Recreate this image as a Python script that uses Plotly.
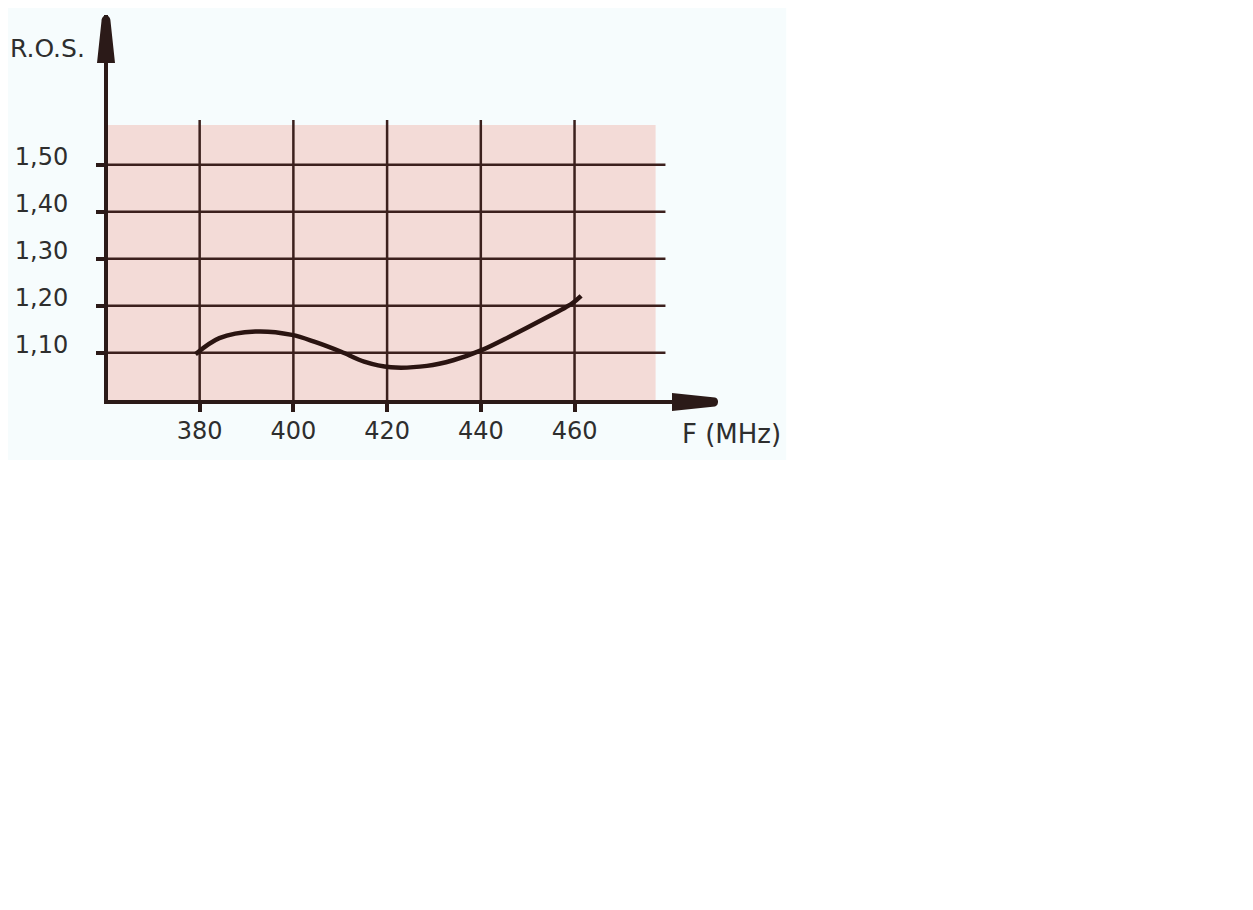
import plotly.graph_objects as go

# ---- data ----
freq_mhz = [379.1, 384.2, 391.9, 399.7, 404.6, 410.2, 415.1, 420.8, 428.5, 434.1,
            440.3, 446.1, 453.1, 459.5, 461.4]
ros = [1.097, 1.131, 1.145, 1.138, 1.123, 1.102, 1.081, 1.069, 1.072, 1.084,
       1.106, 1.134, 1.170, 1.205, 1.221]

x_ticks = [380, 400, 420, 440, 460]
x_tick_labels = ["380", "400", "420", "440", "460"]
y_ticks = [1.10, 1.20, 1.30, 1.40, 1.50]
y_tick_labels = ["1,10", "1,20", "1,30", "1,40", "1,50"]

# ---- layout constants ----
X_RANGE = [360.44, 490.40]
Y_RANGE = [0.9994, 1.8185]
PINK_X_END = 477.3
PINK_Y_TOP = 1.5845
HGRID_X_END = 479.4
VGRID_Y_TOP = 1.595

W, H = 1237, 894
PW, PH = 616, 385
ML, MT = 93.5, 7
MR = W - ML - PW
MB = H - MT - PH
OFF_X, OFF_Y = 10.5, 8  # page -> figure pixel offset


def px_x(page_x):  # page pixel -> paper fraction
    return (page_x - OFF_X - ML) / PW


def px_y(page_y):
    return (MT + PH - (page_y - OFF_Y)) / PH


INK = "#2b1a18"
GRID = "#3b201d"
TEXT = "#2e2e2e"
FONT = "DejaVu Sans"

fig = go.Figure()
fig.add_trace(go.Scatter(
    x=freq_mhz, y=ros, mode="lines",
    line=dict(color="#2a1411", width=4.5, shape="spline", smoothing=0.9),
    hoverinfo="skip", showlegend=False,
))

shapes = []
# light tinted background of the scanned figure
shapes.append(dict(type="rect", xref="paper", yref="paper",
                   x0=px_x(0), x1=px_x(790), y0=px_y(460), y1=px_y(0),
                   fillcolor="#f6fcfd", line=dict(width=0), layer="below"))
# pink chart paper
shapes.append(dict(type="rect", xref="x", yref="y",
                   x0=X_RANGE[0], x1=PINK_X_END, y0=Y_RANGE[0], y1=PINK_Y_TOP,
                   fillcolor="#f3dbd7", line=dict(width=0), layer="below"))
# grid lines
for v in y_ticks:
    shapes.append(dict(type="line", xref="x", yref="y", x0=X_RANGE[0], x1=HGRID_X_END,
                       y0=v, y1=v, line=dict(color=GRID, width=2.5), layer="below"))
for v in x_ticks:
    shapes.append(dict(type="line", xref="x", yref="y", x0=v, x1=v,
                       y0=Y_RANGE[0], y1=VGRID_Y_TOP, line=dict(color=GRID, width=2.5),
                       layer="below"))
# arrow heads (pixel-sized, anchored at axis ends, not clipped)
shapes.append(dict(type="path", xref="paper", yref="paper", xsizemode="pixel", ysizemode="pixel",
                   xanchor=0, yanchor=1,
                   path="M -11,-48 L -6.5,-6 C -6.5,1.5 2.5,1.5 2.5,-6 L 7,-48 Z",
                   fillcolor=INK, line=dict(width=0)))
shapes.append(dict(type="path", xref="paper", yref="paper", xsizemode="pixel", ysizemode="pixel",
                   xanchor=1, yanchor=0,
                   path="M -45,7 L -2,2.5 C 2,2 2,-5.5 -2,-6.5 L -45,-11 Z",
                   fillcolor=INK, line=dict(width=0)))

fig.update_layout(
    width=W, height=H,
    margin=dict(l=ML, r=MR, t=MT, b=MB, pad=0),
    paper_bgcolor="white", plot_bgcolor="rgba(0,0,0,0)",
    shapes=shapes,
    font=dict(family=FONT, size=24, color=TEXT),
    xaxis=dict(range=X_RANGE, tickvals=x_ticks, ticktext=x_tick_labels,
               showgrid=False, zeroline=False, showline=True, linecolor=INK, linewidth=4,
               ticks="outside", ticklen=8, tickwidth=4, tickcolor=INK,
               ticklabelstandoff=-2, tickfont=dict(family=FONT, size=24, color=TEXT)),
    yaxis=dict(range=Y_RANGE, tickvals=y_ticks, ticktext=y_tick_labels,
               showgrid=False, zeroline=False, showline=True, linecolor=INK, linewidth=4,
               ticks="outside", ticklen=8, tickwidth=4, tickcolor=INK,
               ticklabelstandoff=23, ticklabelshift=-8,
               tickfont=dict(family=FONT, size=24, color=TEXT)),
    annotations=[
        dict(text="R.O.S.", xref="paper", yref="paper", x=px_x(83), y=px_y(48.5),
             xanchor="right", yanchor="middle", showarrow=False,
             font=dict(family=FONT, size=25, color=TEXT)),
        dict(text="F (MHz)", xref="paper", yref="paper", x=px_x(683), y=px_y(434),
             xanchor="left", yanchor="middle", showarrow=False,
             font=dict(family=FONT, size=26, color=TEXT)),
    ],
)

fig.write_html("out.html")
